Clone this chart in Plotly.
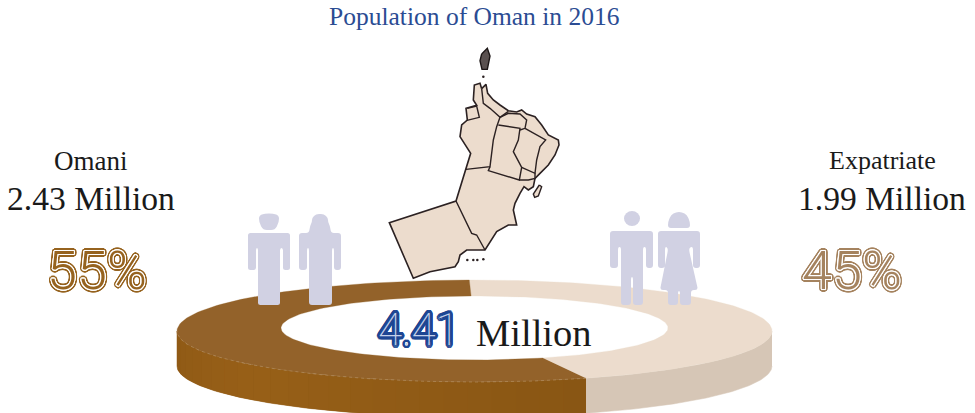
import numpy as np
import plotly.graph_objects as go

# ---------- data ----------
categories = ["Omani", "Expatriate"]
population_millions = [2.43, 1.99]
share_percent = [55, 45]
total_millions = 4.41
title_text = "Population of Oman in 2016"

# ---------- map outlines, in map-image units ----------
map_mainland = [(305,146),(318,133),(323,160),(340,180),(360,195),(385,212),(410,216),(425,210),(440,222),(465,230),
    (485,255),(505,285),(535,300),(537,315),(525,345),(505,375),(480,400),(465,415),(460,440),(445,450),(432,440),
    (420,460),(405,490),(400,510),(410,555),(385,555),(350,575),(330,605),(315,630),(290,630),(260,630),(240,645),
    (235,665),(225,680),(190,688),(150,695),(100,715),(28,548),(228,483),(258,388),(272,340),(240,290),(245,255),
    (262,240),(258,205),(290,196),(280,180),(283,135),(300,130),(305,146)]
map_borders = [
    [(262,205),(290,198),(298,232),(258,242)],
    [(305,146),(310,190),(330,205),(360,232),(350,260),(340,300),(330,380),(258,388)],
    [(330,380),(325,392),(418,420),(425,382),(400,335),(415,300),(420,265),(355,255)],
    [(360,232),(385,220),(420,222),(440,240),(435,265),(420,270)],
    [(360,232),(385,214)],
    [(435,265),(497,300),(480,320),(470,360),(465,400),(425,382)],
    [(418,420),(445,420),(465,415),(465,400)],
    [(228,483),(275,580),(290,585),(315,630)],
]
map_masirah = [(478,435),(485,440),(475,468),(464,472),(460,462),(470,445),(478,435)]
map_musandam = [(305,42),(322,25),(330,48),(322,88),(306,88),(300,62),(305,42)]
map_specks = [(310,110),(262,660),(280,660),(292,660),(310,658)]

# ---------- people outlines ----------
omani_man = [(248,233),(290,233),(290,270),(283,270),(283,248),(280,248),(280,305),(258,305),(258,248),(256,248),(256,270),(248,270)]
omani_man_head = [(259,215),(269,213),(279,215),(279,222),(275,230),(263,230),(259,222)]
omani_woman = [(299,233),(309,233),(310,226),(312,222),(312,218),(316,214),(324,214),(328,218),(328,222),(330,226),(331,233),(341,233),(341,270),(334,270),(334,248),(332,248),(332,305),(309,305),(309,248),(307,248),(307,270),(299,270)]
expat_man = [(610,231),(653,231),(653,268),(646,268),(646,247),(643,247),(643,305),(633,305),(633,277),(631,277),(631,305),(621,305),(621,247),(618,247),(618,268),(610,268)]
expat_woman = [(658,231),(700,231),(700,268),(693,268),(693,247),(690,247),(689,250),(698,290),(691,290),(691,305),(680,305),(680,291),(678,291),(678,305),(668,305),(668,290),(660,290),(668,250),(667,247),(665,247),(665,268),(658,268)]
expat_woman_head = [(668,228),(668,222),(671,215),(676,212),(682,212),(687,215),(690,222),(690,228)]

# ---------- colours ----------
BROWN_TOP = "#93622a"
BEIGE_TOP = "#ecdccd"
BEIGE_SIDE = "#d6c6b6"
SIDE_BASE = "#915b17"
SIDE_DARK = (137, 86, 20)
SIDE_LIGHT = (152, 96, 24)
PERSON = "#d1d1e3"
INK = "#1a1a1a"
SERIF = "Liberation Serif, serif"
SANS = "Roboto, sans-serif"

fig = go.Figure()

def arc(cx, cy, rx, ry, a0, a1, n=120):
    t = np.radians(np.linspace(a0, a1, n))
    return cx + rx * np.sin(t), cy - ry * np.cos(t)

def fill(xs, ys, color, line=0.0):
    fig.add_trace(go.Scatter(x=list(xs), y=list(ys), mode="lines", fill="toself", fillcolor=color,
                             line=dict(color=color, width=line), hoverinfo="skip", showlegend=False))

# ---------- 3-D donut, angles derived from the shares ----------
OUT = dict(cx=474.5, cy=331.0, rx=297.5, ry=51.0)
INN = dict(cx=474.5, cy=328.0, rx=193.5, ry=32.0)
DEPTH = 35.0
start = -1.0
boundary = 360 + start - 360 * share_percent[0] / 100
b_out = boundary - 3.0      # the tilt of the view pushes the near edge outwards
b_in = boundary - 1.7

# side walls
sx, sy = arc(**OUT, a0=90, a1=b_out)
fill(np.r_[sx, sx[::-1]], np.r_[sy, sy[::-1] + DEPTH], BEIGE_SIDE, 0.5)
sx, sy = arc(**OUT, a0=b_out, a1=270)
fill(np.r_[sx, sx[::-1]], np.r_[sy, sy[::-1] + DEPTH], SIDE_BASE, 0.5)
edges = np.linspace(b_out, 270, 25)
for i in range(24):
    f = min(1.0, abs((i + 0.5) / 24 - 0.62) / 0.62)
    c = tuple(int(SIDE_LIGHT[k] + (SIDE_DARK[k] - SIDE_LIGHT[k]) * f) for k in range(3))
    sx, sy = arc(**OUT, a0=edges[i], a1=edges[i + 1], n=8)
    fill(np.r_[sx, sx[::-1]], np.r_[sy, sy[::-1] + DEPTH], "rgb(%d,%d,%d)" % c, 0)

# top faces
ox, oy = arc(**OUT, a0=start, a1=b_out)
ix, iy = arc(**INN, a0=start, a1=b_in)
fill(np.r_[ox, ix[::-1]], np.r_[oy, iy[::-1]], BEIGE_TOP, 0.3)
ox, oy = arc(**OUT, a0=b_out, a1=359)
ix, iy = arc(**INN, a0=b_in, a1=359)
fill(np.r_[ox, ix[::-1]], np.r_[oy, iy[::-1]], BROWN_TOP, 0.3)

# faint rim on the brown part
rx_, ry_ = arc(**OUT, a0=b_out, a1=270)
fig.add_trace(go.Scatter(x=rx_, y=ry_, mode="lines", line=dict(color="#b79468", width=0.6, dash="dot"),
                         hoverinfo="skip", showlegend=False))

# ---------- map ----------
def mx(p): return [380 + a / 3 for a, _ in p]
def my(p): return [40 + b / 3 for _, b in p]

MAP_LINE = "#2b2122"
fig.add_trace(go.Scatter(x=mx(map_mainland), y=my(map_mainland), mode="lines", fill="toself", fillcolor=BEIGE_TOP,
                         line=dict(color=MAP_LINE, width=1.6), hoverinfo="skip", showlegend=False))
for b in map_borders:
    fig.add_trace(go.Scatter(x=mx(b), y=my(b), mode="lines", line=dict(color=MAP_LINE, width=1.4),
                             hoverinfo="skip", showlegend=False))
fig.add_trace(go.Scatter(x=mx(map_masirah), y=my(map_masirah), mode="lines", fill="toself", fillcolor=BEIGE_TOP,
                         line=dict(color=MAP_LINE, width=1.4), hoverinfo="skip", showlegend=False))
fig.add_trace(go.Scatter(x=mx(map_musandam), y=my(map_musandam), mode="lines", fill="toself", fillcolor="#5a5150",
                         line=dict(color="#1c1616", width=1.4), hoverinfo="skip", showlegend=False))
fig.add_trace(go.Scatter(x=mx(map_specks), y=my(map_specks), mode="markers",
                         marker=dict(color=MAP_LINE, size=2.5), hoverinfo="skip", showlegend=False))

# ---------- people ----------
def rounded(points, r):
    n = len(points)
    d = ""
    for i in range(n):
        p0 = np.array(points[i - 1], float)
        p1 = np.array(points[i], float)
        p2 = np.array(points[(i + 1) % n], float)
        l0, l2 = np.linalg.norm(p0 - p1), np.linalg.norm(p2 - p1)
        a = p1 + (p0 - p1) / l0 * min(r, l0 / 2)
        b = p1 + (p2 - p1) / l2 * min(r, l2 / 2)
        d += ("M" if i == 0 else "L") + f" {a[0]:.2f},{a[1]:.2f} Q {p1[0]},{p1[1]} {b[0]:.2f},{b[1]:.2f} "
    return d + "Z"

shapes = []
for pts, r in [(omani_man, 2.5), (omani_man_head, 4), (omani_woman, 3), (expat_man, 3), (expat_woman, 3), (expat_woman_head, 3)]:
    shapes.append(dict(type="path", path=rounded(pts, r), xref="x", yref="y", fillcolor=PERSON,
                       line=dict(width=0), layer="above"))
shapes.append(dict(type="circle", xref="x", yref="y", x0=624, x1=640, y0=211, y1=226, fillcolor=PERSON,
                   line=dict(width=0), layer="above"))

# ---------- text ----------
def ring(c, w):
    return [f"{c} {round(w*np.cos(a),2)}px {round(w*np.sin(a),2)}px 0" for a in np.radians(np.arange(0, 360, 20))]

def double_outline(c):
    return ", ".join(ring("#ffffff", 1.1) + ring(c, 2.6))

def text(x, y, s, size, color, family=SERIF, shadow=None, weight=None):
    f = dict(size=size, color=color, family=family)
    if shadow:
        f["shadow"] = shadow
    if weight:
        f["weight"] = weight
    fig.add_annotation(x=x, y=y, text=s, showarrow=False, xref="x", yref="y", xanchor="center", yanchor="middle",
                       font=f)

text(474, 16, title_text, 25.5, "#2b4c93")
text(91, 161, categories[0], 27, INK)
text(91, 198, f"{population_millions[0]:.2f} Million", 33.6, INK)
text(882, 160, categories[1], 26, INK)
text(882, 198, f"{population_millions[1]:.2f} Million", 33.6, INK)
text(97, 270, f"{share_percent[0]}%", 54, "#96631f", SANS, double_outline("#96631f"), 300)
text(852, 270, f"{share_percent[1]}%", 54, "#a5835f", SANS, double_outline("#a5835f"), 300)
text(419, 330, f"{total_millions:.2f}", 44, "#c5d2ea", SANS, ", ".join(ring("#1d4693", 2.9)), 100)
text(534, 333, "Million", 38.5, INK)

fig.update_layout(
    width=975, height=413, margin=dict(l=0, r=0, t=0, b=0), autosize=False,
    paper_bgcolor="white", plot_bgcolor="white", showlegend=False, shapes=shapes,
    xaxis=dict(range=[0, 975], visible=False, fixedrange=True),
    yaxis=dict(range=[413, 0], visible=False, fixedrange=True),
)
fig.write_html("out.html", config=dict(displayModeBar=False),
               post_script="document.body.style.margin='0';document.body.style.overflow='hidden';")
